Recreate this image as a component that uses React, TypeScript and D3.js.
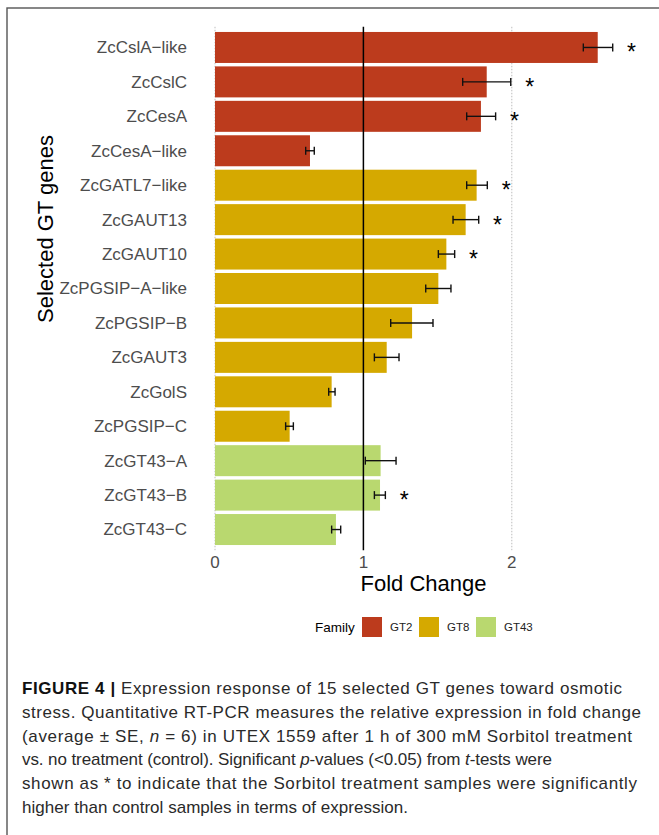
import React from "react";
import * as d3 from "d3";

const genes = [
  "ZcCslA−like", "ZcCslC", "ZcCesA", "ZcCesA−like", "ZcGATL7−like", "ZcGAUT13", "ZcGAUT10",
  "ZcPGSIP−A−like", "ZcPGSIP−B", "ZcGAUT3", "ZcGolS", "ZcPGSIP−C", "ZcGT43−A", "ZcGT43−B", "ZcGT43−C",
];
const families = ["GT2", "GT2", "GT2", "GT2", "GT8", "GT8", "GT8", "GT8", "GT8", "GT8", "GT8", "GT8", "GT43", "GT43", "GT43"];
const foldChange = [2.579, 1.831, 1.792, 0.64, 1.763, 1.689, 1.559, 1.505, 1.328, 1.157, 0.786, 0.503, 1.116, 1.112, 0.815];
const errLow = [2.482, 1.669, 1.696, 0.611, 1.696, 1.604, 1.505, 1.42, 1.184, 1.074, 0.766, 0.476, 1.013, 1.074, 0.786];
const errHigh = [2.68, 1.993, 1.891, 0.669, 1.835, 1.777, 1.615, 1.59, 1.469, 1.24, 0.809, 0.528, 1.22, 1.148, 0.847];
const significant = [true, true, true, false, true, true, true, false, false, false, false, false, false, true, false];
const familyNames = ["GT2", "GT8", "GT43"];
const familyColors = ["#BC3B1D", "#D5A900", "#B9D86F"];
const xTicks = [0, 1, 2];

const W = 659;
const H = 835;
const FONT = "'Liberation Sans', Arial, Helvetica, sans-serif";

export default function App() {
  const panelLeft = 194;
  const panelRight = 653;
  const panelTop = 26.8;
  const panelBottom = 550.2;
  const x = d3.scaleLinear().domain([0, 2]).range([215, 511.8]);
  const y = d3.scalePoint<string>().domain(genes).range([panelTop, panelBottom]).padding(0.6);
  const step = y.step();
  const barH = step * 0.9;
  const color = d3.scaleOrdinal<string, string>().domain(familyNames).range(familyColors);
  const capH = 8;
  const starOffset = 0.127;

  const captionLines: { parts: { t: string; w?: string; s?: string }[]; len: number }[] = [
    { parts: [{ t: "FIGURE 4 | ", w: "bold" }, { t: "Expression response of 15 selected GT genes toward osmotic" }], len: 600 },
    { parts: [{ t: "stress. Quantitative RT-PCR measures the relative expression in fold change" }], len: 619 },
    { parts: [{ t: "(average ± SE, " }, { t: "n", s: "italic" }, { t: " = 6) in UTEX 1559 after 1 h of 300 mM Sorbitol treatment" }], len: 610 },
    { parts: [{ t: "vs. no treatment (control). Significant " }, { t: "p", s: "italic" }, { t: "-values (<0.05) from " }, { t: "t", s: "italic" }, { t: "-tests were" }], len: 530 },
    { parts: [{ t: "shown as * to indicate that the Sorbitol treatment samples were significantly" }], len: 615 },
    { parts: [{ t: "higher than control samples in terms of expression." }], len: 386 },
  ];

  return (
    <svg width={W} height={H} style={{ position: "absolute", left: 0, top: 0, display: "block", background: "#fff" }} fontFamily={FONT}>
      <rect x={0} y={0} width={W} height={H} fill="#fff" />
      <rect x={7} y={8} width={W} height={H + 20} fill="none" stroke="#555" strokeWidth={1.4} />

      {/* grid lines */}
      {xTicks.filter((t) => t !== 1).map((t) => (
        <line key={"g" + t} x1={x(t)} x2={x(t)} y1={panelTop} y2={panelBottom} stroke="#bdbdbd" strokeWidth={1} strokeDasharray="1.5,1.5" />
      ))}

      {/* bars */}
      {genes.map((g, i) => (
        <rect key={"b" + g} x={x(0)} y={(y(g) as number) - barH / 2} width={x(foldChange[i]) - x(0)} height={barH} fill={color(families[i])} />
      ))}

      {/* reference line */}
      <line x1={x(1)} x2={x(1)} y1={panelTop} y2={panelBottom} stroke="#000" strokeWidth={1.5} />

      {/* error bars */}
      {genes.map((g, i) => {
        const cy = y(g) as number;
        return (
          <g key={"e" + g} stroke="#111" strokeWidth={1.4}>
            <line x1={x(errLow[i])} x2={x(errHigh[i])} y1={cy} y2={cy} />
            <line x1={x(errLow[i])} x2={x(errLow[i])} y1={cy - capH / 2} y2={cy + capH / 2} />
            <line x1={x(errHigh[i])} x2={x(errHigh[i])} y1={cy - capH / 2} y2={cy + capH / 2} />
          </g>
        );
      })}

      {/* significance stars */}
      {genes.map((g, i) =>
        significant[i] ? (
          <text key={"s" + g} x={x(errHigh[i] + starOffset)} y={(y(g) as number) + 13} fontSize={23} textAnchor="middle" fill="#000">
            *
          </text>
        ) : null
      )}

      {/* y labels */}
      {genes.map((g) => (
        <text key={"l" + g} x={187} y={y(g) as number} dy="0.35em" fontSize={17} textAnchor="end" fill="#4d4d4d">
          {g}
        </text>
      ))}

      {/* x tick labels */}
      {xTicks.map((t) => (
        <text key={"t" + t} x={x(t)} y={562} dy="0.35em" fontSize={17} textAnchor="middle" fill="#4d4d4d">
          {t}
        </text>
      ))}

      {/* axis titles */}
      <text x={(panelLeft + panelRight) / 2} y={583} dy="0.35em" fontSize={22} textAnchor="middle" fill="#000">
        Fold Change
      </text>
      <text transform={`translate(45,229) rotate(-90)`} dy="0.35em" fontSize={22} textAnchor="middle" fill="#000">
        Selected GT genes
      </text>

      {/* legend */}
      <text x={315} y={627} dy="0.35em" fontSize={13.5} fill="#000">Family</text>
      {familyNames.map((f, i) => {
        const kx = [362, 419, 476][i];
        return (
          <g key={"lg" + f}>
            <rect x={kx} y={617} width={20} height={20} fill={color(f)} />
            <text x={kx + 28} y={627} dy="0.35em" fontSize={11.5} fill="#222">{f}</text>
          </g>
        );
      })}

      {/* caption */}
      {captionLines.map((ln, i) => (
        <text key={"c" + i} x={22} y={688 + i * 23.8} dy="0.35em" fontSize={17} fill="#2a2a2a" textLength={ln.len} lengthAdjust="spacing">
          {ln.parts.map((p, j) => (
            <tspan key={j} fontWeight={p.w || "normal"} fontStyle={p.s || "normal"} fill={p.w ? "#111" : undefined}>
              {p.t}
            </tspan>
          ))}
        </text>
      ))}
    </svg>
  );
}
